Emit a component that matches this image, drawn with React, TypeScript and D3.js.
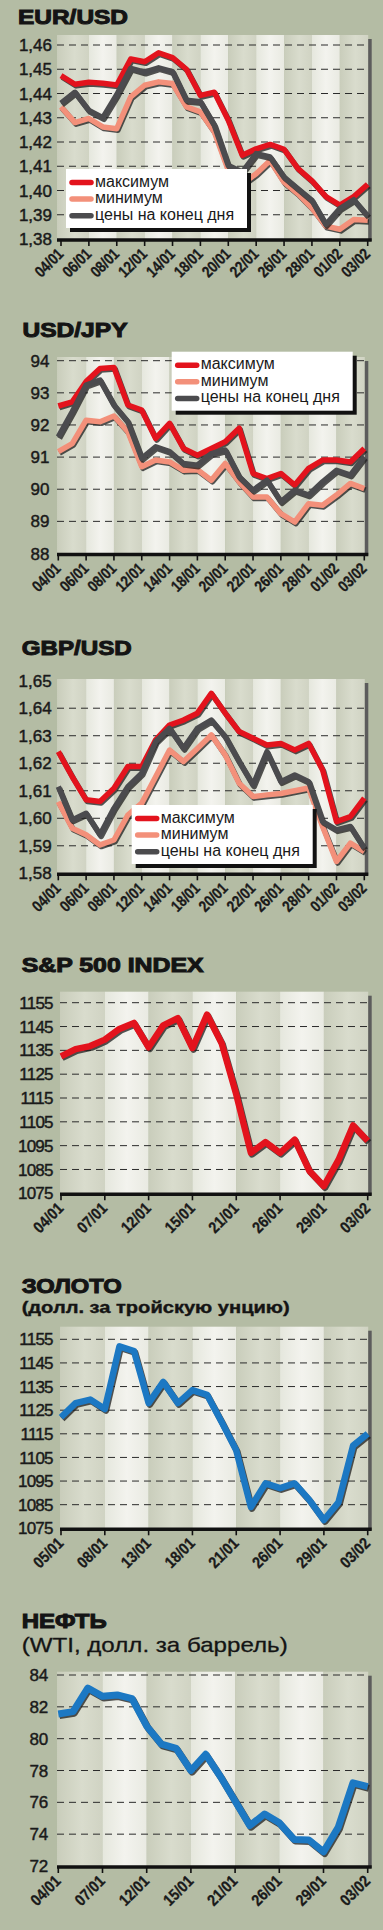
import React from "react";
import * as d3 from "d3";

// ---------- DATA ----------
const fxDates = ["04/01","05/01","06/01","07/01","08/01","11/01","12/01","13/01","14/01","15/01","18/01","19/01","20/01","21/01","22/01","25/01","26/01","27/01","28/01","29/01","01/02","02/02","03/02"];
const fxTicks = ["04/01","06/01","08/01","12/01","14/01","18/01","20/01","22/01","26/01","28/01","01/02","03/02"];
const usDates = ["04/01","05/01","06/01","07/01","08/01","11/01","12/01","13/01","14/01","15/01","19/01","20/01","21/01","22/01","25/01","26/01","27/01","28/01","29/01","01/02","02/02","03/02"];
const usTicks = ["04/01","07/01","12/01","15/01","21/01","26/01","29/01","03/02"];
const goldDates = ["05/01","06/01","07/01","08/01","11/01","12/01","13/01","14/01","15/01","18/01","19/01","20/01","21/01","22/01","25/01","26/01","27/01","28/01","29/01","01/02","02/02","03/02"];
const goldTicks = ["05/01","08/01","13/01","18/01","21/01","26/01","29/01","03/02"];

const legendLabels = ["максимум", "минимум", "цены на конец дня"];

const eurMax = [1.4474,1.4438,1.4446,1.4442,1.4435,1.4542,1.4531,1.4568,1.4548,1.4500,1.4392,1.4405,1.4290,1.4145,1.4172,1.4190,1.4170,1.4090,1.4040,1.3975,1.3940,1.3975,1.4025];
const eurMin = [1.4345,1.4280,1.4297,1.4262,1.4255,1.4386,1.4434,1.4448,1.4441,1.4345,1.4324,1.4241,1.4083,1.4027,1.4069,1.4124,1.4034,1.3986,1.3928,1.3853,1.3840,1.3880,1.3877];
const eurClose = [1.4360,1.4405,1.4330,1.4300,1.4395,1.4504,1.4488,1.4506,1.4490,1.4372,1.4366,1.4269,1.4103,1.4076,1.4152,1.4138,1.4055,1.4007,1.3959,1.3860,1.3925,1.3962,1.3895];

const jpyMax = [92.59,92.72,93.35,93.76,93.79,92.62,92.46,91.58,92.05,91.27,91.06,91.27,91.48,91.90,90.49,90.33,90.49,90.13,90.65,90.91,90.91,90.85,91.27];
const jpyMin = [91.17,91.42,92.15,92.10,92.28,91.79,90.70,90.91,90.85,90.59,90.61,90.28,90.80,90.23,89.76,89.76,89.24,88.98,89.55,89.50,89.82,90.18,90.02];
const jpyClose = [91.63,92.41,93.24,93.40,92.62,92.10,90.96,91.32,91.17,90.80,90.75,91.11,91.22,90.39,89.97,90.28,89.61,89.97,89.82,90.23,90.59,90.44,91.01];

const gbpMax = [1.6242,1.6151,1.6067,1.6061,1.6109,1.6188,1.6188,1.6285,1.6339,1.6357,1.6382,1.6454,1.6382,1.6315,1.6291,1.6266,1.6272,1.6248,1.6272,1.6176,1.5988,1.6006,1.6073];
const gbpMin = [1.6060,1.5964,1.5940,1.5903,1.5921,1.6012,1.6055,1.6151,1.6248,1.6206,1.6254,1.6303,1.6230,1.6127,1.6079,1.6085,1.6090,1.6100,1.6110,1.5970,1.5843,1.5910,1.5879];
const gbpClose = [1.6115,1.5994,1.6018,1.5940,1.6036,1.6115,1.6164,1.6278,1.6327,1.6254,1.6327,1.6357,1.6297,1.6206,1.6121,1.6242,1.6133,1.6157,1.6133,1.5988,1.5958,1.5970,1.5891];

const spxClose = [1132.5,1135.5,1136.8,1139.5,1144.0,1146.5,1136.3,1145.5,1148.5,1136.0,1150.0,1138.0,1116.5,1092.0,1096.5,1092.0,1097.5,1084.5,1078.0,1089.0,1103.5,1097.0];
const goldPrice = [1122,1128,1129.5,1125.5,1152,1150,1128,1137,1128,1133.5,1131.5,1120,1108,1084,1094,1092,1094,1087,1078.5,1086,1110,1115];
const oilPrice = [81.55,81.7,83.18,82.66,82.75,82.52,80.79,79.65,79.39,78.0,79.02,77.62,76.08,74.54,75.26,74.71,73.67,73.64,72.89,74.43,77.23,76.98];

const eurYTicks = [1.38,1.39,1.40,1.41,1.42,1.43,1.44,1.45,1.46];
const jpyYTicks = [88,89,90,91,92,93,94];
const gbpYTicks = [1.58,1.59,1.60,1.61,1.62,1.63,1.64,1.65];
const spxYTicks = [1075,1085,1095,1105,1115,1125,1135,1145,1155];
const goldYTicks = [1075,1085,1095,1105,1115,1125,1135,1145,1155];
const oilYTicks = [72,74,76,78,80,82,84];

// ---------- STYLE ----------
const FONT = "'Liberation Sans', Arial, Helvetica, sans-serif";
const BG = "#b4bca4";
const RED = "#e3131d";
const SALMON = "#f3907a";
const GREY = "#4b4b4e";
const BLUE = "#1c78c3";

const fmt2 = (v: number) => d3.format(".2f")(v).replace(".", ",");
const fmt0 = (v: number) => d3.format("d")(v);

type Series = { values: number[]; color: string; width: number };
type PanelCfg = {
  title: string; titleX: number; titleY: number; titleW: number;
  sub?: string; subY?: number; subW?: number; subSize?: number; subWeight?: number;
  dates: string[]; ticks: string[]; series: Series[];
  yTicks: number[]; yFmt: (v: number) => string; labelRight: number; labelSpacing: number;
  bgLeft: number; bgTop: number; x0: number; x1: number; yBottom: number; yTop: number;
  xLabW: number; topGrid: boolean;
  legend?: { x: number; y: number };
};

const panels: PanelCfg[] = [
  { title: "EUR/USD", titleX: 18, titleY: 24, titleW: 110,
    dates: fxDates, ticks: fxTicks,
    series: [ { values: eurMax, color: RED, width: 5.5 }, { values: eurMin, color: SALMON, width: 5.5 }, { values: eurClose, color: GREY, width: 5.5 } ],
    yTicks: eurYTicks, yFmt: fmt2, labelRight: 52, labelSpacing: 0,
    bgLeft: 57, bgTop: 35, x0: 61, x1: 367.7, yBottom: 239, yTop: 45, xLabW: 33, topGrid: true,
    legend: { x: 66, y: 169 } },
  { title: "USD/JPY", titleX: 22.5, titleY: 336.7, titleW: 105,
    dates: fxDates, ticks: fxTicks,
    series: [ { values: jpyMax, color: RED, width: 5.5 }, { values: jpyMin, color: SALMON, width: 5.5 }, { values: jpyClose, color: GREY, width: 5.5 } ],
    yTicks: jpyYTicks, yFmt: fmt0, labelRight: 49.5, labelSpacing: 0,
    bgLeft: 57, bgTop: 357, x0: 58.3, x1: 364.3, yBottom: 553.5, yTop: 360.7, xLabW: 33, topGrid: true,
    legend: { x: 171.7, y: 351.7 } },
  { title: "GBP/USD", titleX: 21.7, titleY: 655, titleW: 110,
    dates: fxDates, ticks: fxTicks,
    series: [ { values: gbpMax, color: RED, width: 5.5 }, { values: gbpMin, color: SALMON, width: 5.5 }, { values: gbpClose, color: GREY, width: 5.5 } ],
    yTicks: gbpYTicks, yFmt: fmt2, labelRight: 51.7, labelSpacing: 0,
    bgLeft: 57, bgTop: 679, x0: 58.3, x1: 364.3, yBottom: 873.3, yTop: 680.7, xLabW: 33, topGrid: false,
    legend: { x: 131.7, y: 805 } },
  { title: "S&P 500 INDEX", titleX: 21.7, titleY: 971.7, titleW: 182,
    dates: usDates, ticks: usTicks,
    series: [ { values: spxClose, color: RED, width: 6.5 } ],
    yTicks: spxYTicks, yFmt: fmt0, labelRight: 52.7, labelSpacing: -0.8,
    bgLeft: 60, bgTop: 991.7, x0: 61, x1: 367.7, yBottom: 1193.3, yTop: 1002.7, xLabW: 35, topGrid: true },
  { title: "ЗОЛОТО", titleX: 21.7, titleY: 1293.3, titleW: 100,
    sub: "(долл. за тройскую унцию)", subY: 1312.7, subW: 268, subSize: 17, subWeight: 700,
    dates: goldDates, ticks: goldTicks,
    series: [ { values: goldPrice, color: BLUE, width: 6.5 } ],
    yTicks: goldYTicks, yFmt: fmt0, labelRight: 52.7, labelSpacing: -0.8,
    bgLeft: 60, bgTop: 1326.7, x0: 61, x1: 367.7, yBottom: 1528.3, yTop: 1339.3, xLabW: 35, topGrid: true },
  { title: "НЕФТЬ", titleX: 21.7, titleY: 1628.3, titleW: 85,
    sub: "(WTI, долл. за баррель)", subY: 1651.7, subW: 266, subSize: 21, subWeight: 400,
    dates: usDates, ticks: usTicks,
    series: [ { values: oilPrice, color: BLUE, width: 7 } ],
    yTicks: oilYTicks, yFmt: fmt0, labelRight: 48.3, labelSpacing: 0,
    bgLeft: 57, bgTop: 1671.7, x0: 58.3, x1: 367.7, yBottom: 1866, yTop: 1675, xLabW: 35, topGrid: true },
];

function Legend({ x, y }: { x: number; y: number }) {
  const colors = [RED, SALMON, GREY];
  const w = 181, h = 59;
  return (
    <g>
      <rect x={x + 4} y={y + 4} width={w} height={h} fill="#111" />
      <rect x={x} y={y} width={w} height={h} fill="#ffffff" />
      {legendLabels.map((lab, i) => {
        const by = y + 17.5 + i * 16.6;
        return (
          <g key={lab}>
            <line x1={x + 6} x2={x + 25} y1={by - 4} y2={by - 4} stroke={colors[i]} strokeWidth={5.5} strokeLinecap="round" />
            <text x={x + 29} y={by} fontFamily={FONT} fontSize={16} fill="#1a1a1a">{lab}</text>
          </g>
        );
      })}
    </g>
  );
}

function Panel({ cfg }: { cfg: PanelCfg }) {
  const x = d3.scalePoint<string>().domain(cfg.dates).range([cfg.x0, cfg.x1]);
  const ext = d3.extent(cfg.yTicks) as [number, number];
  const y = d3.scaleLinear().domain(ext).range([cfg.yBottom, cfg.yTop]);
  const tickX = cfg.ticks.map((t) => x(t) as number);
  const bgRight = cfg.x1 + 0.5;
  const line = d3.line<number>().x((_, i) => x(cfg.dates[i]) as number).y((d) => y(d));
  const stripes = tickX.slice(0, -1).map((tx, k) => {
    const left = k === 0 ? cfg.bgLeft : tx;
    const right = k === tickX.length - 2 ? bgRight : tickX[k + 1];
    return { left, right, dark: k % 2 === 0 };
  });
  return (
    <g>
      <text x={cfg.titleX} y={cfg.titleY} fontFamily={FONT} fontWeight={700} fontSize={20} fill="#141414"
        stroke="#141414" strokeWidth={1} textLength={cfg.titleW} lengthAdjust="spacingAndGlyphs">{cfg.title}</text>
      {cfg.sub && (
        <text x={cfg.titleX} y={cfg.subY} fontFamily={FONT} fontWeight={cfg.subWeight} fontSize={cfg.subSize} fill="#141414"
          stroke="#141414" strokeWidth={cfg.subWeight === 700 ? 0.4 : 0.3} textLength={cfg.subW} lengthAdjust="spacingAndGlyphs">{cfg.sub}</text>
      )}
      {stripes.map((s, k) => (
        <rect key={k} x={s.left} y={cfg.bgTop} width={s.right - s.left} height={cfg.yBottom - cfg.bgTop}
          fill={s.dark ? "url(#gDark)" : "url(#gLight)"} />
      ))}
      <rect x={bgRight} y={cfg.bgTop + 4} width={3.5} height={cfg.yBottom - cfg.bgTop - 2} fill="#5c5c5c" />
      {cfg.yTicks.slice(1).filter((v, i, arr) => cfg.topGrid || i < arr.length - 1).map((v) => (
        <line key={v} x1={cfg.bgLeft} x2={bgRight} y1={y(v)} y2={y(v)} stroke="#2b2b2b" strokeWidth={1} strokeDasharray="7 5" />
      ))}
      {cfg.yTicks.map((v) => (
        <text key={v} x={cfg.labelRight} y={y(v)} dy="0.36em" textAnchor="end" fontFamily={FONT} fontSize={17}
          fill="#1a1a1a" stroke="#1a1a1a" strokeWidth={0.45} letterSpacing={cfg.labelSpacing}>{cfg.yFmt(v)}</text>
      ))}
      {cfg.series.map((s, k) => (
        <g key={k}>
          <path d={line(s.values) as string} fill="none" stroke="#1c1c1c" strokeOpacity={0.75} strokeWidth={s.width}
            strokeLinejoin="round" transform="translate(1.2,1.6)" />
          <path d={line(s.values) as string} fill="none" stroke={s.color} strokeWidth={s.width} strokeLinejoin="round" />
        </g>
      ))}
      <line x1={cfg.bgLeft} x2={bgRight + 3.5} y1={cfg.yBottom + 1} y2={cfg.yBottom + 1} stroke="#111" strokeWidth={3.5} />
      {tickX.map((tx, k) => (
        <line key={k} x1={tx} x2={tx} y1={cfg.yBottom} y2={cfg.yBottom + 7} stroke="#111" strokeWidth={1.6} />
      ))}
      {cfg.ticks.map((t, k) => (
        <text key={t} transform={`translate(${tickX[k] + 3.5},${cfg.yBottom + 16}) rotate(-45)`} textAnchor="end"
          fontFamily={FONT} fontWeight={700} fontSize={16} fill="#1a1a1a" stroke="#1a1a1a" strokeWidth={0.3}
          textLength={cfg.xLabW} lengthAdjust="spacingAndGlyphs">{t}</text>
      ))}
      {cfg.legend && <Legend x={cfg.legend.x} y={cfg.legend.y} />}
    </g>
  );
}

export default function App() {
  return (
    <svg width={383} height={1930} viewBox="0 0 383 1930"
      style={{ position: "absolute", left: 0, top: 0, display: "block" }}>
      <defs>
        <linearGradient id="gDark" x1="0" x2="1" y1="0" y2="0">
          <stop offset="0" stopColor="#c9cdbb" />
          <stop offset="0.55" stopColor="#d9dccd" />
          <stop offset="1" stopColor="#d0d3c3" />
        </linearGradient>
        <linearGradient id="gLight" x1="0" x2="1" y1="0" y2="0">
          <stop offset="0" stopColor="#e5e7dd" />
          <stop offset="0.5" stopColor="#f3f3ee" />
          <stop offset="1" stopColor="#e9eae2" />
        </linearGradient>
      </defs>
      <rect x={0} y={0} width={383} height={1930} fill={BG} />
      {panels.map((p) => <Panel key={p.title} cfg={p} />)}
    </svg>
  );
}
